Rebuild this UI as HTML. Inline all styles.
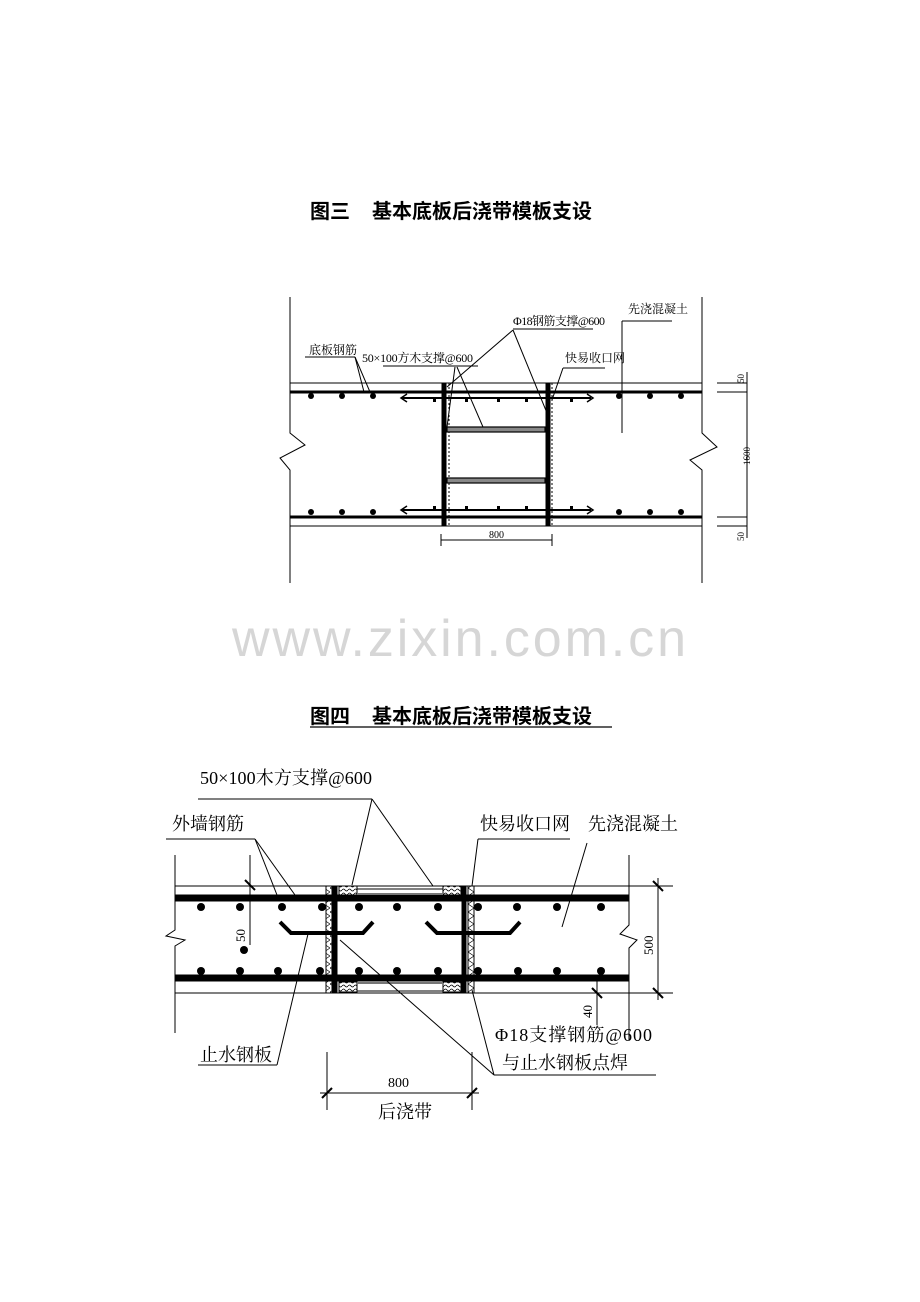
<!DOCTYPE html>
<html><head><meta charset="utf-8"><style>
html,body{margin:0;padding:0;background:#fff;}
svg{display:block;}
text{font-family:"Liberation Serif","Noto Serif CJK SC","Noto Sans CJK SC",serif;fill:#000;}
.t{font-family:"Liberation Sans","Noto Sans CJK SC",sans-serif;font-weight:bold;}
</style></head><body>
<svg width="920" height="1302" viewBox="0 0 920 1302" xmlns="http://www.w3.org/2000/svg">
<defs>
<pattern id="wood" width="6" height="4" patternUnits="userSpaceOnUse"><path d="M0 2 Q1.5 0 3 2 T6 2" stroke="#000" stroke-width="0.8" fill="none"/></pattern>
<pattern id="mesh" width="6" height="8" patternUnits="userSpaceOnUse"><path d="M0 0 L6 4 L0 8" stroke="#000" stroke-width="0.7" fill="none"/></pattern>
</defs>
<text x="310" y="218" font-size="20" class="t">图三</text>
<text x="372" y="218" font-size="20" class="t">基本底板后浇带模板支设</text>

<!-- FIG 3 -->
<g stroke="#000" fill="none" stroke-width="1">
<polyline points="290,297 290,433 305,445 280,458 290,470 290,583"/>
<polyline points="702,297 702,433 717,447 690,460 702,470 702,583"/>
<line x1="290" y1="383" x2="702" y2="383"/>
<line x1="290" y1="526" x2="702" y2="526"/>
<line x1="290" y1="392" x2="702" y2="392" stroke-width="3"/>
<line x1="290" y1="517" x2="702" y2="517" stroke-width="3"/>
<line x1="402" y1="398" x2="591" y2="398" stroke-width="2"/>
<line x1="402" y1="510" x2="591" y2="510" stroke-width="2"/>
<polyline points="407,394 401,398 407,402" stroke-width="1.5"/>
<polyline points="587,394 593,398 587,402" stroke-width="1.5"/>
<polyline points="407,506 401,510 407,514" stroke-width="1.5"/>
<polyline points="587,506 593,510 587,514" stroke-width="1.5"/>
<line x1="444" y1="383" x2="444" y2="526" stroke-width="5"/>
<line x1="548" y1="383" x2="548" y2="526" stroke-width="5"/>
<line x1="449" y1="383" x2="449" y2="526" stroke-dasharray="2,2"/>
<line x1="552" y1="383" x2="552" y2="526" stroke-dasharray="2,2"/>
<rect x="447" y="427" width="98" height="5" stroke-width="1.2" fill="#888"/>
<rect x="447" y="478" width="98" height="5" stroke-width="1.2" fill="#888"/>
<line x1="717" y1="383" x2="747" y2="383"/><line x1="717" y1="392" x2="747" y2="392"/>
<line x1="717" y1="517" x2="747" y2="517"/><line x1="717" y1="526" x2="747" y2="526"/>
<line x1="747" y1="372" x2="747" y2="538"/>
<line x1="441" y1="540" x2="552" y2="540"/>
<line x1="441" y1="534" x2="441" y2="546"/><line x1="552" y1="534" x2="552" y2="546"/>
<line x1="305" y1="357" x2="355" y2="357"/>
<line x1="355" y1="357" x2="364" y2="392"/><line x1="355" y1="357" x2="370" y2="392"/>
<line x1="383" y1="366" x2="478" y2="366"/>
<line x1="455" y1="367" x2="447" y2="427"/><line x1="457" y1="367" x2="483" y2="427"/>
<line x1="513" y1="329" x2="593" y2="329"/>
<line x1="513" y1="330" x2="447" y2="387"/><line x1="513" y1="330" x2="547" y2="413"/>
<line x1="563" y1="368" x2="605" y2="368"/>
<line x1="563" y1="368" x2="552" y2="400"/>
<line x1="622" y1="321" x2="672" y2="321"/>
<line x1="622" y1="321" x2="622" y2="433"/>
</g>
<g fill="#000">
<circle cx="311" cy="396" r="3"/><circle cx="342" cy="396" r="3"/><circle cx="373" cy="396" r="3"/>
<circle cx="619" cy="396" r="3"/><circle cx="650" cy="396" r="3"/><circle cx="681" cy="396" r="3"/>
<circle cx="311" cy="512" r="3"/><circle cx="342" cy="512" r="3"/><circle cx="373" cy="512" r="3"/>
<circle cx="619" cy="512" r="3"/><circle cx="650" cy="512" r="3"/><circle cx="681" cy="512" r="3"/>
<rect x="433" y="397" width="3" height="5"/><rect x="465" y="397" width="3" height="5"/><rect x="497" y="397" width="3" height="5"/><rect x="525" y="397" width="3" height="5"/><rect x="570" y="397" width="3" height="5"/>
<rect x="433" y="506" width="3" height="5"/><rect x="465" y="506" width="3" height="5"/><rect x="497" y="506" width="3" height="5"/><rect x="525" y="506" width="3" height="5"/><rect x="570" y="506" width="3" height="5"/>
</g>
<g font-size="12">
<text x="309" y="354">底板钢筋</text>
<text x="362" y="362" textLength="111">50×100方木支撑@600</text>
<text x="513" y="325" textLength="92">Φ18钢筋支撑@600</text>
<text x="565" y="362">快易收口网</text>
<text x="628" y="313">先浇混凝土</text>
<text x="489" y="538" font-size="10">800</text>
<text font-size="9" transform="translate(744,383) rotate(-90)">50</text>
<text font-size="9" transform="translate(750,465) rotate(-90)">1600</text>
<text font-size="9" transform="translate(744,541) rotate(-90)">50</text>
</g>

<text x="232" y="656" font-size="52" textLength="454" style="font-family:'Liberation Sans',sans-serif;fill:#d6d6d6">www.zixin.com.cn</text>

<text x="310" y="723" font-size="20" class="t">图四</text>
<text x="372" y="723" font-size="20" class="t">基本底板后浇带模板支设</text>
<line x1="310" y1="727" x2="612" y2="727" stroke="#000" stroke-width="1.2"/>

<!-- FIG 4 -->
<g stroke="#000" fill="none" stroke-width="1">
<polyline points="175,855 175,930 166,936 185,940 175,946 175,1033"/>
<polyline points="629,855 629,925 620,934 637,940 629,948 629,1040"/>
<line x1="175" y1="886" x2="673" y2="886"/>
<line x1="175" y1="993" x2="673" y2="993"/>
<line x1="175" y1="898" x2="629" y2="898" stroke-width="7"/>
<line x1="175" y1="978" x2="629" y2="978" stroke-width="7"/>
<line x1="335" y1="886" x2="335" y2="993" stroke-width="5"/>
<line x1="464" y1="886" x2="464" y2="993" stroke-width="5"/>
<rect x="326" y="886" width="6" height="107" fill="url(#mesh)"/>
<rect x="468" y="886" width="6" height="107" fill="url(#mesh)"/>
<rect x="339" y="886" width="18" height="9" fill="url(#wood)"/>
<rect x="443" y="886" width="18" height="9" fill="url(#wood)"/>
<rect x="339" y="982" width="18" height="10" fill="url(#wood)"/>
<rect x="443" y="982" width="18" height="10" fill="url(#wood)"/>
<line x1="357" y1="889" x2="443" y2="889"/><line x1="357" y1="894" x2="443" y2="894" stroke="#777" stroke-width="2"/>
<line x1="357" y1="983" x2="443" y2="983" stroke="#777" stroke-width="2"/><line x1="357" y1="991" x2="443" y2="991"/>
<polyline points="280,922 291,933 363,933 373,922" stroke-width="4"/>
<polyline points="426,922 437,933 510,933 520,922" stroke-width="4"/>
<line x1="658" y1="878" x2="658" y2="1000"/>
<line x1="653" y1="881" x2="663" y2="891" stroke-width="2"/>
<line x1="653" y1="988" x2="663" y2="998" stroke-width="2"/>
<line x1="250" y1="855" x2="250" y2="945"/>
<line x1="245" y1="880" x2="255" y2="890" stroke-width="2"/>
<line x1="597" y1="975" x2="597" y2="1025"/>
<line x1="592" y1="988" x2="602" y2="998" stroke-width="2"/>
<line x1="327" y1="1052" x2="327" y2="1110"/><line x1="472" y1="1052" x2="472" y2="1110"/>
<line x1="320" y1="1093" x2="479" y2="1093"/>
<line x1="322" y1="1098" x2="332" y2="1088" stroke-width="2"/>
<line x1="467" y1="1098" x2="477" y2="1088" stroke-width="2"/>
<line x1="198" y1="799" x2="372" y2="799"/>
<line x1="372" y1="799" x2="352" y2="885"/><line x1="372" y1="799" x2="433" y2="886"/>
<line x1="166" y1="839" x2="255" y2="839"/>
<line x1="255" y1="839" x2="277" y2="895"/><line x1="255" y1="839" x2="295" y2="895"/>
<line x1="478" y1="839" x2="570" y2="839"/>
<line x1="478" y1="839" x2="472" y2="886"/>
<line x1="587" y1="843" x2="562" y2="927"/>
<line x1="198" y1="1065" x2="277" y2="1065"/>
<line x1="277" y1="1065" x2="308" y2="934"/>
<line x1="494" y1="1075" x2="656" y2="1075"/>
<line x1="494" y1="1075" x2="340" y2="940"/><line x1="494" y1="1075" x2="472" y2="990"/>
</g>
<g fill="#000">
<circle cx="201" cy="907" r="4"/><circle cx="240" cy="907" r="4"/><circle cx="282" cy="907" r="4"/><circle cx="322" cy="907" r="4"/><circle cx="359" cy="907" r="4"/><circle cx="397" cy="907" r="4"/><circle cx="438" cy="907" r="4"/><circle cx="478" cy="907" r="4"/><circle cx="517" cy="907" r="4"/><circle cx="557" cy="907" r="4"/><circle cx="601" cy="907" r="4"/>
<circle cx="201" cy="971" r="4"/><circle cx="240" cy="971" r="4"/><circle cx="278" cy="971" r="4"/><circle cx="320" cy="971" r="4"/><circle cx="359" cy="971" r="4"/><circle cx="397" cy="971" r="4"/><circle cx="438" cy="971" r="4"/><circle cx="478" cy="971" r="4"/><circle cx="518" cy="971" r="4"/><circle cx="557" cy="971" r="4"/><circle cx="601" cy="971" r="4"/>
<circle cx="244" cy="950" r="4"/>
</g>
<g font-size="18">
<text x="200" y="784" textLength="172">50×100木方支撑@600</text>
<text x="172" y="830">外墙钢筋</text>
<text x="480" y="830">快易收口网</text>
<text x="588" y="830">先浇混凝土</text>
<text x="200" y="1061">止水钢板</text>
<text x="495" y="1041" textLength="157">Φ18支撑钢筋@600</text>
<text x="502" y="1069">与止水钢板点焊</text>
<text x="388" y="1087" font-size="14">800</text>
<text x="378" y="1118">后浇带</text>
<text font-size="13" transform="translate(245,942) rotate(-90)">50</text>
<text font-size="13" transform="translate(653,955) rotate(-90)">500</text>
<text font-size="13" transform="translate(592,1018) rotate(-90)">40</text>
</g>
</svg>
</body></html>
